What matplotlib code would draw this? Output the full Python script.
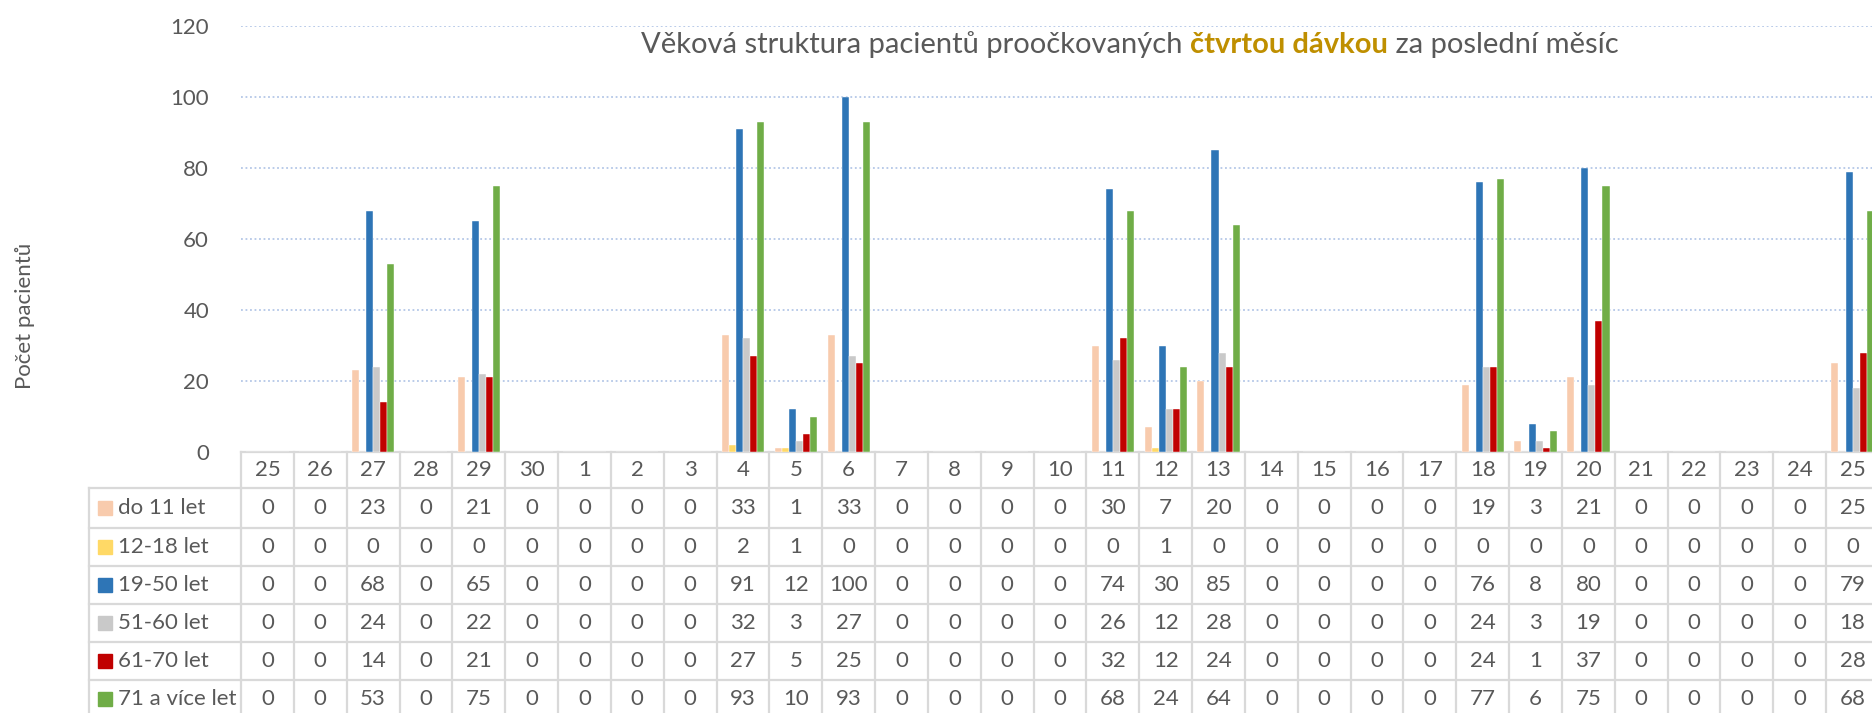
import numpy as np
import matplotlib
matplotlib.use('Agg')
import matplotlib.pyplot as plt
from matplotlib.patches import Rectangle
from matplotlib.transforms import blended_transform_factory

plt.rcParams['font.family'] = ['Lato', 'DejaVu Sans']

days = ['25', '26', '27', '28', '29', '30', '1', '2', '3', '4', '5', '6', '7', '8', '9', '10',
        '11', '12', '13', '14', '15', '16', '17', '18', '19', '20', '21', '22', '23', '24', '25']

do_11 = [0, 0, 23, 0, 21, 0, 0, 0, 0, 33, 1, 33, 0, 0, 0, 0, 30, 7, 20, 0, 0, 0, 0, 19, 3, 21, 0, 0, 0, 0, 25]
age_12_18 = [0, 0, 0, 0, 0, 0, 0, 0, 0, 2, 1, 0, 0, 0, 0, 0, 0, 1, 0, 0, 0, 0, 0, 0, 0, 0, 0, 0, 0, 0, 0]
age_19_50 = [0, 0, 68, 0, 65, 0, 0, 0, 0, 91, 12, 100, 0, 0, 0, 0, 74, 30, 85, 0, 0, 0, 0, 76, 8, 80, 0, 0, 0, 0, 79]
age_51_60 = [0, 0, 24, 0, 22, 0, 0, 0, 0, 32, 3, 27, 0, 0, 0, 0, 26, 12, 28, 0, 0, 0, 0, 24, 3, 19, 0, 0, 0, 0, 18]
age_61_70 = [0, 0, 14, 0, 21, 0, 0, 0, 0, 27, 5, 25, 0, 0, 0, 0, 32, 12, 24, 0, 0, 0, 0, 24, 1, 37, 0, 0, 0, 0, 28]
age_71 = [0, 0, 53, 0, 75, 0, 0, 0, 0, 93, 10, 93, 0, 0, 0, 0, 68, 24, 64, 0, 0, 0, 0, 77, 6, 75, 0, 0, 0, 0, 68]

labels = ['do 11 let', '12-18 let', '19-50 let', '51-60 let', '61-70 let', '71 a více let']
colors = ['#F8CBAD', '#FFD966', '#2E75B6', '#C9C9C9', '#C00000', '#70AD47']
series = [do_11, age_12_18, age_19_50, age_51_60, age_61_70, age_71]

txt = '#595959'
grid_c = '#D9D9D9'
W, H = 1872, 713
fs = 16

fig = plt.figure(figsize=(W / 100, H / 100), dpi=100)
# plot area in pixels: left 241, right 1879 (cut by image), top 26, bottom 452
ax = fig.add_axes([241 / W, 1 - 452 / H, (1879 - 241) / W, (452 - 26) / H])

x = np.arange(len(days))
n = len(series)
bw = 0.8 / n
for i, (vals, c) in enumerate(zip(series, colors)):
    ax.bar(x - 0.4 + bw * (i + 0.5), vals, width=bw, color=c, edgecolor='white', linewidth=0.3, zorder=3)

ax.set_xlim(-0.5, len(days) - 0.5)
ax.set_ylim(0, 120)
ax.set_yticks(range(0, 121, 20))
ax.yaxis.grid(True, color='#B4C7E7', linestyle=(0, (1, 1.5)), linewidth=1.3)
ax.set_axisbelow(True)
ax.tick_params(axis='y', length=0, pad=23, labelsize=fs, labelcolor=txt)
ax.tick_params(axis='x', length=0, labelbottom=False)
for s in ax.spines.values():
    s.set_visible(False)

# data table below the plot, built in pixel rows
trans = blended_transform_factory(ax.transData, fig.transFigure)
ftrans = fig.transFigure


def fy(py):
    return 1 - py / H


row_edges = [452, 488, 528, 566, 604, 642, 680, 718]
lw = 1.6

for py in row_edges:
    ax.plot([-0.5, len(days) - 0.5], [fy(py)] * 2, transform=trans, color=grid_c, lw=lw, clip_on=False)
for py in row_edges[1:]:
    fig.add_artist(plt.Line2D([89 / W, 241 / W], [fy(py)] * 2, color=grid_c, lw=lw))
for j in range(len(days) + 1):
    ax.plot([j - 0.5] * 2, [fy(452), fy(718)], transform=trans, color=grid_c, lw=lw, clip_on=False)
fig.add_artist(plt.Line2D([89 / W] * 2, [fy(488), fy(718)], color=grid_c, lw=lw))

# header row
for j, d in enumerate(days):
    ax.text(j, fy(470), d, transform=trans, ha='center', va='center', fontsize=fs, color=txt, clip_on=False)

# data rows
for r, (lab, c, vals) in enumerate(zip(labels, colors, series)):
    yc = (row_edges[r + 1] + row_edges[r + 2]) / 2
    fig.add_artist(Rectangle((98 / W, fy(yc + 7)), 14 / W, 14 / H, transform=ftrans, color=c))
    fig.text(118 / W, fy(yc), lab, ha='left', va='center', fontsize=fs, color=txt)
    for j, v in enumerate(vals):
        ax.text(j, fy(yc), str(v), transform=trans, ha='center', va='center', fontsize=fs, color=txt, clip_on=False)

# y axis title
fig.text(25 / W, fy(316), 'Počet pacientů', rotation=90, ha='center', va='center', fontsize=16, color=txt)

# title made of three coloured parts
parts = [('Věková struktura pacientů proočkovaných ', txt, 'normal'),
         ('čtvrtou dávkou', '#BF8F00', 'bold'),
         (' za poslední měsíc', txt, 'normal')]
fig.canvas.draw()
renderer = fig.canvas.get_renderer()
px = 641
for s, c, w in parts:
    t = fig.text(px / W, fy(45), s, ha='left', va='center', fontsize=21, color=c, fontweight=w)
    bb = t.get_window_extent(renderer=renderer)
    px += bb.width

fig.savefig('out.png', dpi=100)
